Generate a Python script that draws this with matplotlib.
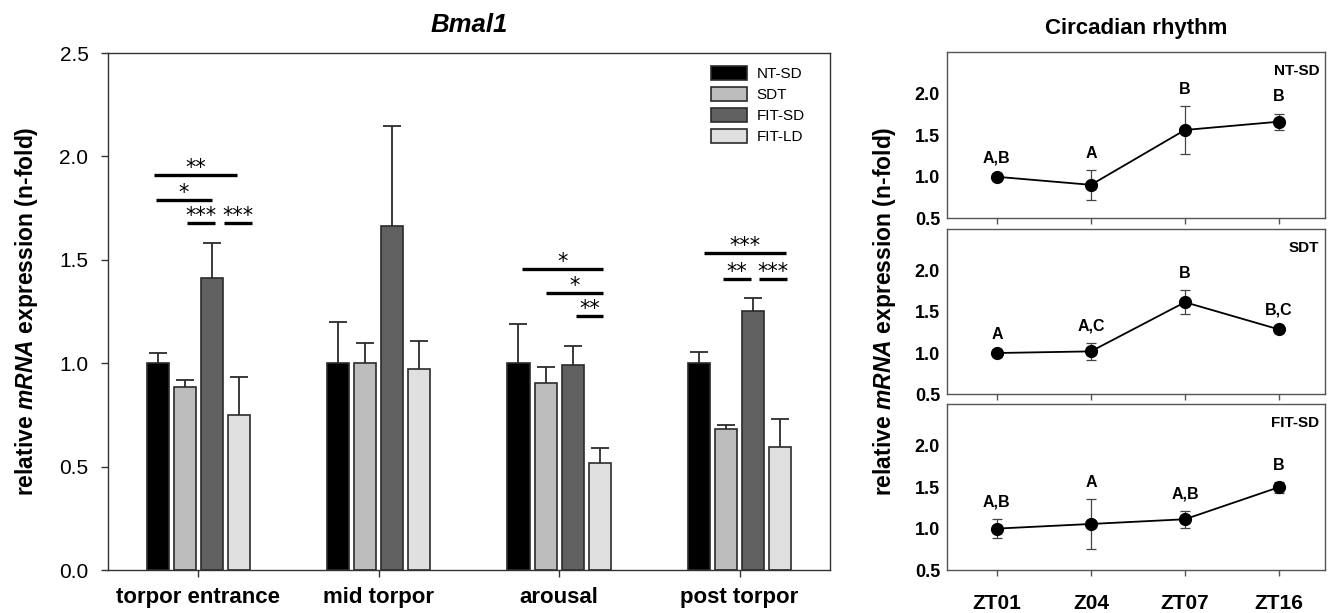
import numpy as np
import matplotlib.pyplot as plt
from matplotlib.patches import Patch

plt.rcParams['font.family'] = ['Liberation Sans', 'DejaVu Sans']
plt.rcParams['mathtext.fontset'] = 'custom'
plt.rcParams['mathtext.it'] = 'Liberation Sans:italic:bold'

# Bmal1 expression per torpor stage
stages = ['torpor entrance', 'mid torpor', 'arousal', 'post torpor']
groups = ['NT-SD', 'SDT', 'FIT-SD', 'FIT-LD']
bar_colors = ['#000000', '#bdbdbd', '#606060', '#e0e0e0']

nt_sd = [1.0, 1.0, 1.0, 1.0]
nt_sd_err = [0.05, 0.20, 0.188, 0.056]
sdt = [0.883, 1.0, 0.906, 0.68]
sdt_err = [0.037, 0.10, 0.077, 0.02]
fit_sd = [1.413, 1.663, 0.991, 1.252]
fit_sd_err = [0.167, 0.484, 0.091, 0.062]
fit_ld = [0.75, 0.97, 0.519, 0.596]
fit_ld_err = [0.183, 0.139, 0.072, 0.133]

# significance lines: stage, left/right end (relative to stage centre), height, label
sig_stage = [0, 0, 0, 0, 2, 2, 2, 3, 3, 3]
sig_left = [-0.243, -0.236, -0.061, 0.144, -0.208, -0.070, 0.091, -0.198, -0.094, 0.107]
sig_right = [0.213, 0.078, 0.093, 0.300, 0.244, 0.244, 0.244, 0.256, 0.061, 0.260]
sig_y = [1.909, 1.789, 1.676, 1.676, 1.455, 1.338, 1.228, 1.531, 1.407, 1.407]
sig_text = ['**', '*', '***', '***', '*', '*', '**', '***', '**', '***']

# circadian rhythm
zt_labels = ['ZT01', 'Z04', 'ZT07', 'ZT16']
circ_groups = ['NT-SD', 'SDT', 'FIT-SD']
circ_mean = [[1.0, 0.903, 1.564, 1.664],
             [1.0, 1.02, 1.616, 1.286],
             [1.0, 1.056, 1.113, 1.5]]
circ_err = [[0.02, 0.18, 0.29, 0.097],
            [0.02, 0.10, 0.143, 0.03],
            [0.115, 0.30, 0.10, 0.065]]
circ_letters = [['A,B', 'A', 'B', 'B'],
                ['A', 'A,C', 'B', 'B,C'],
                ['A,B', 'A', 'A,B', 'B']]

ylab = r'relative $\it{mRNA}$ expression (n-fold)'
spine_col = '#333333'

fig = plt.figure(figsize=(13.32, 6.13), dpi=100)

# ---- left: bar chart ----
ax = fig.add_axes([0.081, 0.070, 0.542, 0.8435])
x = np.arange(len(stages))
offsets = [-0.225, -0.075, 0.075, 0.225]
series = [nt_sd, sdt, fit_sd, fit_ld]
errs = [nt_sd_err, sdt_err, fit_sd_err, fit_ld_err]
for vals, err, off, col, name in zip(series, errs, offsets, bar_colors, groups):
    ax.bar(x + off, vals, width=0.122, color=col, edgecolor='#2b2b2b',
           linewidth=1.2, label=name, zorder=2)
    eb = ax.errorbar(x + off, vals, yerr=[np.zeros(len(vals)), err], fmt='none',
                     ecolor='#2b2b2b', elinewidth=1.3, capsize=6.5, capthick=1.3,
                     zorder=3)
    eb[1][0].set_visible(False)

for st, l, r, y, t in zip(sig_stage, sig_left, sig_right, sig_y, sig_text):
    ax.plot([st + l, st + r], [y, y], color='black', lw=2.4,
            solid_capstyle='butt', zorder=4)
    ax.annotate(t, ((st + l + st + r) / 2, y), xytext=(0, 0.8),
                textcoords='offset points', ha='center', va='baseline',
                fontsize=15, family='DejaVu Sans')

ax.set_xlim(-0.5, 3.5)
ax.set_ylim(0, 2.5)
ax.set_yticks(np.arange(0, 2.51, 0.5))
ax.set_yticklabels(['%.1f' % v for v in np.arange(0, 2.51, 0.5)], fontsize=15)
ax.set_xticks(x)
ax.set_xticklabels(stages, fontsize=16, fontweight='bold')
ax.tick_params(axis='y', direction='out', length=5, width=1, pad=9, color=spine_col)
ax.tick_params(axis='x', direction='out', length=5, width=1, pad=7, color=spine_col)
for s in ax.spines.values():
    s.set_color(spine_col)
    s.set_linewidth(1.0)
ax.set_title('Bmal1', fontsize=18.5, fontweight='bold', fontstyle='italic', pad=15)

handles = [Patch(facecolor=c, edgecolor='#2b2b2b', linewidth=1.2) for c in bar_colors]
ax.legend(handles, groups, loc='upper left', bbox_to_anchor=(0.835, 0.975),
          frameon=False, fontsize=11, handlelength=2.4, handleheight=1.05,
          handletextpad=0.6, labelspacing=0.37, borderpad=0, borderaxespad=0)

fig.text(27 / 1332, 0.492, ylab, rotation=90, ha='center', va='center',
         fontsize=16.5, fontweight='bold')

# ---- right: circadian rhythm panels ----
panel_pos = [[0.711, 0.6439, 0.2838, 0.2708],
             [0.711, 0.3568, 0.2838, 0.2692],
             [0.711, 0.0701, 0.2838, 0.2703]]
xz = np.arange(len(zt_labels))
for i, pos in enumerate(panel_pos):
    pax = fig.add_axes(pos)
    pax.errorbar(xz, circ_mean[i], yerr=circ_err[i], fmt='none', ecolor='#444444',
                 elinewidth=0.9, capsize=3.5, capthick=0.9, zorder=2)
    pax.plot(xz, circ_mean[i], color='black', lw=1.3, marker='o', markersize=8.5,
             zorder=3)
    for xi, m, e, t in zip(xz, circ_mean[i], circ_err[i], circ_letters[i]):
        pax.annotate(t, (xi, m + e), xytext=(0, 12), textcoords='offset points',
                     ha='center', va='center', fontsize=11.5, fontweight='bold')
    pax.text(0.985, 0.889, circ_groups[i], transform=pax.transAxes, ha='right',
             va='center', fontsize=11, fontweight='bold')
    pax.set_xlim(-0.53, 3.49)
    pax.set_ylim(0.5, 2.5)
    pax.set_yticks([0.5, 1.0, 1.5, 2.0])
    pax.set_yticklabels(['0.5', '1.0', '1.5', '2.0'], fontsize=13, fontweight='bold')
    pax.set_xticks(xz)
    if i == 2:
        pax.set_xticklabels(zt_labels, fontsize=15, fontweight='bold')
    else:
        pax.set_xticklabels([])
    pax.tick_params(axis='y', length=0, pad=5)
    pax.tick_params(axis='x', direction='out', length=4, width=1, pad=13,
                    color='#555555')
    for s in pax.spines.values():
        s.set_color('#555555')
        s.set_linewidth(1.0)
    if i == 0:
        pax.set_title('Circadian rhythm', fontsize=16, fontweight='bold', pad=13)

fig.text(885 / 1332, 0.492, ylab, rotation=90, ha='center', va='center',
         fontsize=16.5, fontweight='bold')

fig.savefig('out.png', dpi=100)
